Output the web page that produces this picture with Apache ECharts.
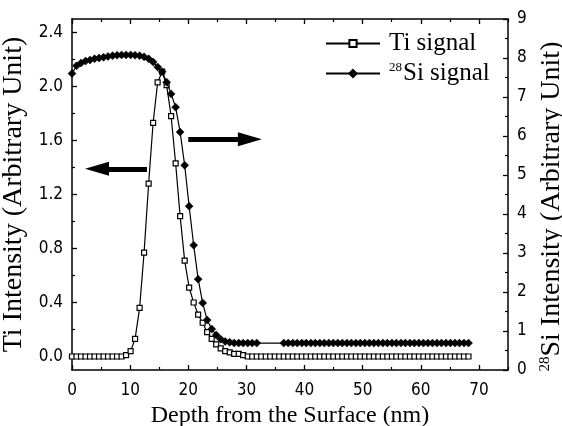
<!DOCTYPE html>
<html>
<head>
<meta charset="utf-8">
<script src="https://cdn.jsdelivr.net/npm/echarts@6/dist/echarts.min.js"></script>
<style>
html,body{margin:0;padding:0;background:#fff;}
#chart{width:562px;height:426px;}
</style>
</head>
<body>
<div id="chart"></div>
<script>
// ---- data ----
var seriesNames = ['Ti signal', 'Si signal'];
var depth = [0, 0.78, 1.55, 2.33, 3.1, 3.88, 4.65, 5.43, 6.2, 6.98, 7.75, 8.53, 9.3, 10.08, 10.85, 11.63, 12.4, 13.18, 13.95, 14.73, 15.5, 16.28, 17.05, 17.83, 18.6, 19.38, 20.15, 20.93, 21.7, 22.48, 23.25, 24.03, 24.8, 25.58, 26.35, 27.13, 27.9, 28.68, 29.45, 30.23, 31.0, 31.78, 32.55, 33.33, 34.1, 34.88, 35.65, 36.43, 37.2, 37.98, 38.75, 39.53, 40.3, 41.08, 41.85, 42.63, 43.4, 44.18, 44.95, 45.73, 46.5, 47.28, 48.05, 48.83, 49.6, 50.38, 51.15, 51.93, 52.7, 53.48, 54.25, 55.03, 55.8, 56.58, 57.35, 58.13, 58.9, 59.68, 60.45, 61.23, 62.0, 62.78, 63.55, 64.33, 65.1, 65.88, 66.65, 67.43, 68.2];
var tiSignal = [0, 0, 0, 0, 0, 0, 0, 0, 0, 0, 0, 0,
  0.01, 0.04, 0.13, 0.36, 0.77, 1.28, 1.73, 2.03, 2.11, 2.01, 1.78, 1.43, 1.04, 0.71, 0.51, 0.40, 0.31, 0.25, 0.18, 0.13, 0.09, 0.06, 0.04, 0.03, 0.02, 0.02, 0.01,
  0, 0, 0, 0, 0, 0, 0, 0, 0, 0, 0, 0, 0, 0, 0, 0, 0, 0, 0, 0, 0, 0, 0, 0, 0, 0, 0, 0, 0, 0, 0, 0, 0, 0, 0, 0, 0, 0, 0, 0, 0, 0, 0, 0, 0, 0, 0, 0, 0, 0];
var siSignal = [7.6, 7.8, 7.87, 7.92, 7.95, 7.98, 8.0, 8.02, 8.04, 8.06, 8.07, 8.08, 8.08, 8.08, 8.07, 8.06, 8.03, 7.98, 7.9, 7.77, 7.65, 7.38, 7.08, 6.74, 6.1, 5.25, 4.2, 3.2, 2.33, 1.72, 1.28, 1.05, 0.9, 0.79, 0.73, 0.71,
  0.69, 0.69, 0.69, 0.69, 0.69, 0.69,
  null, null, null, null, null,
  0.69, 0.69, 0.69, 0.69, 0.69, 0.69, 0.69, 0.69, 0.69, 0.69, 0.69, 0.69, 0.69, 0.69, 0.69, 0.69, 0.69, 0.69, 0.69, 0.69, 0.69, 0.69, 0.69, 0.69, 0.69, 0.69, 0.69, 0.69, 0.69, 0.69, 0.69, 0.69, 0.69, 0.69, 0.69, 0.69, 0.69, 0.69, 0.69, 0.69, 0.69, 0.69];
var xMajorTicks = [0, 10, 20, 30, 40, 50, 60, 70];
var xMinorTicks = [5, 15, 25, 35, 45, 55, 65, 75];
var tiMajorTicks = [0, 0.4, 0.8, 1.2, 1.6, 2.0, 2.4];
var tiMinorTicks = [0.2, 0.6, 1.0, 1.4, 1.8, 2.2];
// annotation arrows: [fromDepth, toDepth, tiLevel]
var arrows = [[12.9, 4.3, 1.39], [20.0, 30.6, 1.61]];

// ---- chart ----
var tickFont = "'Liberation Sans Narrow','DejaVu Sans Condensed','Arial Narrow',sans-serif";
var serif = "'Liberation Serif','Times New Roman',serif";
var black = '#000';

function pairs(ys) {
  return depth.map(function (d, i) { return [d, ys[i]]; });
}

var axisLineStyle = { onZero: false, lineStyle: { color: black, width: 1.5 } };
var noLine = { show: false, onZero: false };

var chart = echarts.init(document.getElementById('chart'), null, { renderer: 'canvas' });
chart.setOption({
  animation: false,
  backgroundColor: '#fff',
  grid: { left: 72, right: 54, top: 19, bottom: 56, containLabel: false, outerBoundsMode: 'none' },
  legend: {
    orient: 'vertical',
    left: 325,
    top: 31,
    padding: 0,
    itemWidth: 54,
    itemHeight: 9,
    itemGap: 5,
    data: seriesNames,
    lineStyle: { width: 2 },
    formatter: function (name) {
      return name === seriesNames[1] ? '{sup|28}{t|' + name + '}' : '{t|' + name + '}';
    },
    textStyle: {
      color: black,
      fontFamily: serif,
      fontSize: 25,
      padding: [0, 0, 0, 4],
      rich: {
        t: { fontFamily: serif, fontSize: 25, color: black },
        sup: { fontFamily: serif, fontSize: 13, color: black, verticalAlign: 'top', padding: [0, 1, 0, 0] }
      }
    }
  },
  xAxis: [
    {
      type: 'value', min: 0, max: 75, position: 'bottom',
      axisLine: axisLineStyle,
      axisTick: { inside: true, length: 5, lineStyle: { color: black, width: 1.3 }, customValues: xMajorTicks },
      axisLabel: { customValues: xMajorTicks, color: black, fontFamily: tickFont, fontSize: 17, margin: 12 },
      splitLine: { show: false },
      name: 'Depth from the Surface (nm)',
      nameLocation: 'middle',
      nameGap: 30,
      nameTextStyle: { color: black, fontFamily: serif, fontSize: 24 }
    },
    {
      type: 'value', min: 0, max: 75, position: 'bottom',
      axisLine: noLine,
      axisTick: { inside: true, length: 3, lineStyle: { color: black, width: 1.2 }, customValues: xMinorTicks },
      axisLabel: { show: false },
      splitLine: { show: false }
    },
    {
      type: 'value', min: 0, max: 75, position: 'top',
      axisLine: axisLineStyle,
      axisTick: { inside: true, length: 5, lineStyle: { color: black, width: 1.3 }, customValues: xMajorTicks },
      axisLabel: { show: false },
      splitLine: { show: false }
    },
    {
      type: 'value', min: 0, max: 75, position: 'top',
      axisLine: noLine,
      axisTick: { inside: true, length: 3, lineStyle: { color: black, width: 1.2 }, customValues: xMinorTicks },
      axisLabel: { show: false },
      splitLine: { show: false }
    }
  ],
  yAxis: [
    {
      type: 'value', min: -0.1, max: 2.5, position: 'left',
      axisLine: axisLineStyle,
      axisTick: { inside: true, length: 5, lineStyle: { color: black, width: 1.3 }, customValues: tiMajorTicks },
      axisLabel: {
        customValues: tiMajorTicks, color: black, fontFamily: tickFont, fontSize: 17, margin: 9,
        formatter: function (v) { return v.toFixed(1); }
      },
      splitLine: { show: false },
      name: 'Ti Intensity (Arbitrary Unit)',
      nameLocation: 'middle',
      nameRotate: 90,
      nameGap: 30,
      nameTextStyle: { color: black, fontFamily: serif, fontSize: 28 }
    },
    {
      type: 'value', min: 0, max: 9, interval: 1, position: 'right',
      axisLine: axisLineStyle,
      axisTick: { inside: true, length: 5, lineStyle: { color: black, width: 1.3 } },
      minorTick: { show: true, splitNumber: 2, length: 3, lineStyle: { color: black, width: 1.2 } },
      axisLabel: { color: black, fontFamily: tickFont, fontSize: 17, margin: 9 },
      splitLine: { show: false },
      minorSplitLine: { show: false },
      name: '{sup|28}{t|Si Intensity (Arbitrary Unit)}',
      nameLocation: 'middle',
      nameRotate: 90,
      nameGap: 20,
      nameTextStyle: {
        color: black, fontFamily: serif, fontSize: 28,
        padding: [0, 24, 0, 0],
        rich: {
          t: { fontFamily: serif, fontSize: 28, color: black },
          sup: { fontFamily: serif, fontSize: 15, color: black, verticalAlign: 'top' }
        }
      }
    },
    {
      type: 'value', min: -0.1, max: 2.5, position: 'left',
      axisLine: noLine,
      axisTick: { inside: true, length: 3, lineStyle: { color: black, width: 1.2 }, customValues: tiMinorTicks },
      axisLabel: { show: false },
      splitLine: { show: false }
    }
  ],
  series: [
    {
      name: seriesNames[0],
      type: 'line',
      xAxisIndex: 0,
      yAxisIndex: 0,
      data: pairs(tiSignal),
      symbol: 'rect',
      symbolSize: 5,
      showAllSymbol: true,
      lineStyle: { color: black, width: 1.2 },
      itemStyle: { color: '#fff', borderColor: black, borderWidth: 1.2 },
      emphasis: { disabled: true },
      z: 2,
      markLine: {
        silent: true,
        animation: false,
        symbol: ['none', 'triangle'],
        symbolSize: [14, 24],
        label: { show: false },
        emphasis: { disabled: true },
        lineStyle: { color: black, width: 5, type: 'solid' },
        itemStyle: { color: black },
        data: arrows.map(function (a) {
          return [{ coord: [a[0], a[2]] }, { coord: [a[1], a[2]] }];
        })
      }
    },
    {
      name: seriesNames[1],
      type: 'line',
      xAxisIndex: 0,
      yAxisIndex: 1,
      data: pairs(siSignal),
      connectNulls: true,
      symbol: 'diamond',
      symbolSize: 8,
      showAllSymbol: true,
      lineStyle: { color: black, width: 1.2 },
      itemStyle: { color: black, borderColor: black, borderWidth: 0.5 },
      emphasis: { disabled: true },
      z: 3
    }
  ]
});
</script>
</body>
</html>
